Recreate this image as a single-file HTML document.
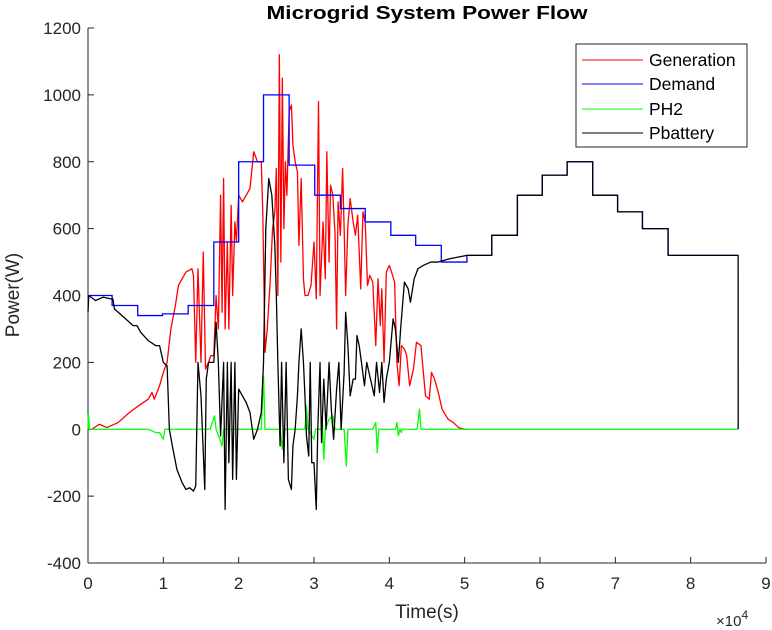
<!DOCTYPE html>
<html><head><meta charset="utf-8"><style>
body{margin:0;background:#fff;}
svg{display:block;font-family:"Liberation Sans",Arial,sans-serif;}
</style></head><body>
<svg id="chart" width="772" height="630" viewBox="0 0 772 630">
<rect width="772" height="630" fill="#fff"/>
<text x="427" y="19" text-anchor="middle" font-size="18.5" font-weight="bold" fill="#000" textLength="321" lengthAdjust="spacingAndGlyphs">Microgrid System Power Flow</text>
<g id="axes"></g>
<g id="series"></g>
<text x="427" y="618" text-anchor="middle" font-size="19" fill="#262626">Time(s)</text>
<text transform="translate(19,295) rotate(-90)" text-anchor="middle" font-size="19" fill="#262626">Power(W)</text>
<text x="716" y="626" font-size="15" fill="#262626">×10<tspan dy="-7" font-size="12">4</tspan></text>
<g>
<rect x="576" y="44" width="171" height="103" fill="#fff" stroke="#262626" stroke-width="1"/>
<g><line x1="582" y1="60" x2="643" y2="60" stroke="#f00" stroke-width="1"/><text x="649" y="66" font-size="17.5" fill="#000">Generation</text></g>
<g><line x1="582" y1="84" x2="643" y2="84" stroke="#00f" stroke-width="1"/><text x="649" y="90" font-size="17.5" fill="#000">Demand</text></g>
<g><line x1="582" y1="109" x2="643" y2="109" stroke="#0f0" stroke-width="1"/><text x="649" y="115" font-size="17.5" fill="#000">PH2</text></g>
<g><line x1="582" y1="133" x2="643" y2="133" stroke="#000" stroke-width="1"/><text x="649" y="139" font-size="17.5" fill="#000">Pbattery</text></g>
</g>
</svg>
<script>
const xTicks=[0,1,2,3,4,5,6,7,8,9];
const yTicks=[-400,-200,0,200,400,600,800,1000,1200];
const demandTimes=[0,0.32,0.66,0.99,1.33,1.67,2.0,2.33,2.67,3.01,3.35,3.68,4.02,4.35,4.69,5.03,5.36,5.7,6.03,6.36,6.7,7.03,7.36,7.7,8.63];
const demandValues=[400,370,340,345,370,560,800,1000,790,700,660,620,580,550,500,520,580,700,760,800,700,650,600,520,520];
const genTimes=[0,0.05,0.15,0.25,0.4,0.55,0.7,0.8,0.85,0.88,0.95,1.0,1.05,1.1,1.16,1.2,1.3,1.38,1.4,1.43,1.46,1.5,1.53,1.56,1.6,1.63,1.67,1.7,1.73,1.76,1.78,1.8,1.82,1.85,1.87,1.9,1.92,1.95,1.97,2.0,2.05,2.1,2.15,2.2,2.25,2.3,2.32,2.35,2.38,2.42,2.45,2.48,2.5,2.52,2.54,2.56,2.58,2.6,2.62,2.64,2.67,2.7,2.72,2.75,2.78,2.8,2.83,2.86,2.88,2.92,2.96,3.0,3.03,3.06,3.08,3.12,3.15,3.17,3.2,3.22,3.25,3.28,3.3,3.32,3.35,3.38,3.4,3.42,3.45,3.48,3.52,3.55,3.58,3.62,3.65,3.68,3.71,3.74,3.78,3.82,3.85,3.88,3.9,3.93,3.96,4.0,4.03,4.07,4.1,4.13,4.16,4.2,4.23,4.27,4.32,4.36,4.42,4.48,4.53,4.56,4.6,4.65,4.7,4.78,4.85,4.92,5.0,5.05,8.63];
const genValues=[0,0,15,5,20,50,75,90,110,90,130,170,200,300,370,430,470,480,460,200,480,200,530,180,200,220,220,400,300,700,350,750,300,560,300,670,400,620,560,700,680,700,720,830,800,800,650,230,300,450,600,650,780,400,1120,500,1050,600,800,700,950,970,850,800,770,550,750,450,400,400,430,560,390,980,400,620,450,830,500,730,700,580,300,680,580,780,600,400,610,690,620,580,640,420,650,620,430,460,440,250,450,310,420,200,470,490,470,440,200,130,250,240,220,130,180,260,250,100,90,170,150,110,60,30,20,5,0,0];
const batTimes=[0,0.01,0.1,0.2,0.3,0.33,0.35,0.5,0.6,0.65,0.7,0.8,0.9,0.95,1.0,1.05,1.08,1.12,1.18,1.25,1.3,1.35,1.4,1.43,1.46,1.5,1.55,1.57,1.6,1.63,1.67,1.7,1.73,1.76,1.8,1.82,1.85,1.87,1.9,1.92,1.95,1.97,2.0,2.05,2.1,2.15,2.2,2.25,2.3,2.33,2.36,2.4,2.44,2.48,2.5,2.52,2.55,2.57,2.6,2.63,2.66,2.7,2.72,2.75,2.78,2.8,2.83,2.86,2.88,2.9,2.93,2.95,2.97,3.0,3.03,3.05,3.08,3.1,3.13,3.16,3.2,3.23,3.26,3.3,3.33,3.36,3.4,3.42,3.45,3.48,3.52,3.55,3.57,3.6,3.63,3.67,3.7,3.75,3.8,3.83,3.87,3.9,3.93,3.96,4.0,4.05,4.08,4.12,4.15,4.2,4.25,4.28,4.33,4.38,4.45,4.55,4.65,4.8,5.03,5.36,5.36,5.7,5.7,6.03,6.03,6.36,6.36,6.7,6.7,7.03,7.03,7.36,7.36,7.7,7.7,8.63,8.631];
const batValues=[350,400,385,395,390,390,360,330,310,310,290,265,250,250,200,190,0,-50,-120,-160,-180,-175,-185,-170,200,100,-180,150,200,200,200,320,200,-20,200,-240,200,-100,200,-150,200,-150,120,100,80,50,-30,0,50,200,600,750,700,550,400,200,-50,200,-100,200,-150,-180,-50,0,100,200,300,200,100,-20,-80,200,-100,-100,-240,0,200,-40,150,0,200,60,-30,120,200,0,170,350,250,100,150,150,280,250,200,130,200,150,100,200,110,200,80,150,200,330,300,200,300,440,420,380,450,480,490,500,500,510,520,520,580,580,700,700,760,760,800,800,700,700,650,650,600,600,520,520,0];
const ph2Times=[0,0.005,0.02,0.8,0.85,0.9,0.95,1.0,1.02,1.62,1.68,1.7,1.75,1.78,1.8,2.3,2.33,2.35,2.55,2.58,2.6,2.88,2.9,2.92,3.0,3.02,3.1,3.11,3.13,3.15,3.2,3.25,3.28,3.4,3.43,3.45,3.78,3.82,3.84,3.86,4.08,4.1,4.12,4.14,4.16,4.17,4.37,4.4,4.42,8.63];
const ph2Values=[0,45,0,0,-5,-10,-10,-30,0,0,40,0,-30,-50,0,0,160,0,0,-60,0,0,70,0,-30,0,0,30,-90,0,30,40,0,0,-110,0,0,20,-70,0,0,20,-20,0,-10,0,0,60,0,0];

const X0=88,X1=766,Y0=563,Ytop=28;
function xs(t){return X0+(t-0)/(9-0)*(X1-X0);}
function ys(v){return Y0-(v+400)/1600*(Y0-Ytop);}
const NS="http://www.w3.org/2000/svg";
const axes=document.getElementById('axes');
const ser=document.getElementById('series');
function mk(tag,attrs,parent){const e=document.createElementNS(NS,tag);for(const k in attrs)e.setAttribute(k,attrs[k]);parent.appendChild(e);return e;}
const xl=mk('line',{x1:X0,y1:Y0,x2:X1,y2:Y0,stroke:'#262626','stroke-width':1},axes);


const yl=mk('line',{x1:X0,y1:Y0,x2:X0,y2:Ytop,stroke:'#262626','stroke-width':1},axes);


xTicks.forEach(t=>{
  const x=xs(t);
  mk('line',{x1:x,y1:Y0,x2:x,y2:Y0-6,stroke:'#262626'},axes);
  const tx=mk('text',{x:x,y:Y0+26,'text-anchor':'middle','font-size':17,fill:'#262626'},axes);
  tx.textContent=t;
  
  
});
yTicks.forEach(v=>{
  const y=ys(v);
  mk('line',{x1:X0,y1:y,x2:X0+6,y2:y,stroke:'#262626'},axes);
  const tx=mk('text',{x:X0-7,y:y+6,'text-anchor':'end','font-size':17,fill:'#262626'},axes);
  tx.textContent=v;
  
  
});
function line(ts,vs,color,name){
  let d='';
  for(let i=0;i<ts.length;i++){d+=(i?'L':'M')+xs(ts[i]).toFixed(2)+' '+ys(vs[i]).toFixed(2);}
  const p=mk('path',{d:d,fill:'none',stroke:color,'stroke-width':1.3,'stroke-linejoin':'round'},ser);
  
  
}
function stairs(ts,vs,color,name){
  let d='M'+xs(ts[0])+' '+ys(vs[0]);
  for(let i=1;i<ts.length;i++){d+='L'+xs(ts[i])+' '+ys(vs[i-1])+'L'+xs(ts[i])+' '+ys(vs[i]);}
  const p=mk('path',{d:d,fill:'none',stroke:color,'stroke-width':1.3},ser);
  
  
}
line(genTimes,genValues,'#f00','generation-line');
stairs(demandTimes,demandValues,'#00f','demand-line');
line(ph2Times,ph2Values,'#0f0','ph2-line');
line(batTimes,batValues,'#000','pbattery-line');
</script>
</body></html>
